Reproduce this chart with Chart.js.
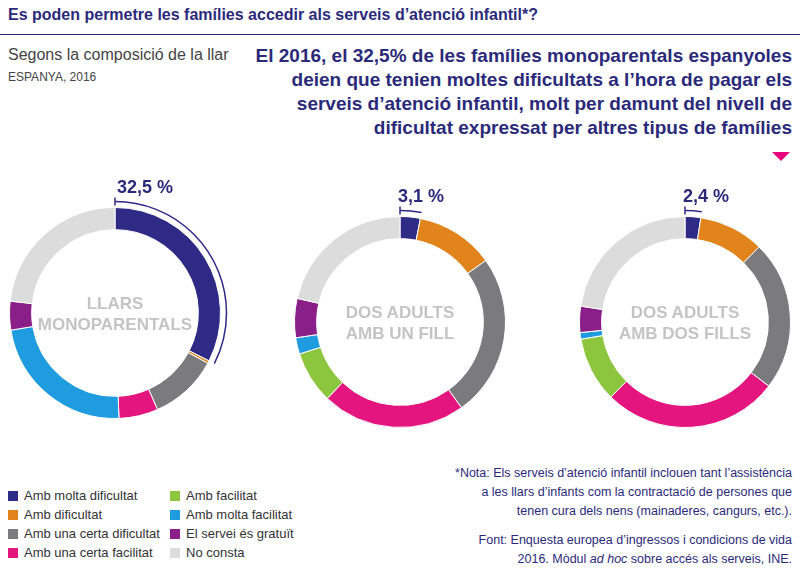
<!DOCTYPE html>
<html><head><meta charset="utf-8">
<script src="https://cdn.jsdelivr.net/npm/chart.js@4"></script>
<style>
body{margin:0;width:800px;height:578px;position:relative;font-family:"Liberation Sans",Arial,sans-serif;background:#fff;overflow:hidden}
.abs{position:absolute}
#title{left:8px;top:6px;font-size:16px;font-weight:bold;color:#2b2a7a}
#rule{left:0;top:34px;width:800px;height:1px;background:#2b2a7a}
#sub{left:8px;top:46px;font-size:16px;color:#444}
#sub2{left:8px;top:70px;font-size:12px;color:#444}
#head{right:8px;top:44px;width:540px;text-align:right;font-size:19px;font-weight:bold;color:#2b2a7a;line-height:24px}
#tri{right:10px;top:152px;width:0;height:0;border-left:9px solid transparent;border-right:9px solid transparent;border-top:9px solid #e6007e}
canvas{position:absolute}
.pct{font-size:18px;font-weight:bold;color:#2b2a7a}
.cl{font-size:17px;font-weight:bold;color:#c4c4c4;text-align:center;width:200px;line-height:21px}
.leg{font-size:13px;color:#333}
.leg span{display:inline-block;width:10px;height:10px;margin-right:6px;vertical-align:-1px}
#note{right:8px;top:464px;width:345px;text-align:right;font-size:12.5px;color:#2b2a7a;line-height:19px}
</style></head><body>
<div class="abs" id="title">Es poden permetre les famílies accedir als serveis d’atenció infantil*?</div>
<div class="abs" id="rule"></div>
<div class="abs" id="sub">Segons la composició de la llar</div>
<div class="abs" id="sub2">ESPANYA, 2016</div>
<div class="abs" id="head">El 2016, el 32,5% de les famílies monoparentals espanyoles deien que tenien moltes dificultats a l’hora de pagar els serveis d’atenció infantil, molt per damunt del nivell de dificultat expressat per altres tipus de famílies</div>
<div class="abs" id="tri"></div>
<div id="charts"></div>
<div id="legend"></div>
<div class="abs" id="note">*Nota: Els serveis d’atenció infantil inclouen tant l’assistència a les llars d’infants com la contractació de persones que tenen cura dels nens (mainaderes, cangurs, etc.).<div style="height:10px"></div>Font: Enquesta europea d’ingressos i condicions de vida 2016. Mòdul <i>ad hoc</i> sobre accés als serveis, INE.</div>
<script>
const categories = ["Amb molta dificultat","Amb dificultat","Amb una certa dificultat","Amb una certa facilitat","Amb facilitat","Amb molta facilitat","El servei és gratuït","No consta"];
const colors = ["#2e2a85","#e2841c","#7b7a7d","#e5157f","#8cc63f","#1f9ce0","#8a1f8a","#dcdcdc"];
const groups = ["LLARS<br>MONOPARENTALS","DOS ADULTS<br>AMB UN FILL","DOS ADULTS<br>AMB DOS FILLS"];
const pctLabels = ["32,5 %","3,1 %","2,4 %"];
const monoparentals = [32.5,0.4,10.5,6,0,23,4.4,23.2];
const unFill = [3.1,12,25,22,8,2.5,6,21.4];
const dosFills = [2.4,10,23,27,10,1,4,22.6];
const seriesAll = [monoparentals, unFill, dosFills];
const centers = [[115,313],[400,322],[685,322]];

const bracket = {
  id:'bracket',
  afterDraw(chart){
    const a = chart.getDatasetMeta(0).data[0];
    const c = chart.ctx, r = a.outerRadius + 6;
    c.save(); c.strokeStyle = '#2e2a85'; c.lineWidth = 1.5;
    c.beginPath(); c.arc(a.x, a.y, r, a.startAngle, a.endAngle); c.stroke();
    c.beginPath();
    c.moveTo(a.x, a.y - r + 4); c.lineTo(a.x, a.y - r - 4); c.stroke();
    c.restore();
  }
};

seriesAll.forEach((vals, i) => {
  const [cx, cy] = centers[i];
  const cv = document.createElement('canvas');
  cv.width = 240; cv.height = 240;
  cv.style.left = (cx - 120) + 'px'; cv.style.top = (cy - 120) + 'px';
  cv.style.width = '240px'; cv.style.height = '240px';
  document.getElementById('charts').appendChild(cv);
  new Chart(cv.getContext('2d'), {
    type: 'doughnut',
    data: { labels: categories, datasets: [{ data: vals, backgroundColor: colors, borderColor: '#fff', borderWidth: 1 }] },
    options: {
      responsive: false, animation: false, cutout: '79%',
      layout: { padding: 14 },
      plugins: { legend: { display: false }, tooltip: { enabled: false } }
    },
    plugins: [bracket]
  });
  const p = document.createElement('div');
  p.className = 'abs pct'; p.textContent = pctLabels[i];
  p.style.left = (cx + (i == 0 ? 2 : -2)) + 'px'; p.style.top = (cy - 136) + 'px';
  document.body.appendChild(p);
  const l = document.createElement('div');
  l.className = 'abs cl'; l.innerHTML = groups[i];
  l.style.left = (cx - 100) + 'px'; l.style.top = (cy - 20) + 'px';
  document.body.appendChild(l);
});

const order = [0,4,1,5,2,6,3,7];
order.forEach((k, j) => {
  const d = document.createElement('div');
  d.className = 'abs leg';
  d.innerHTML = '<span style="background:' + colors[k] + '"></span>' + categories[k];
  d.style.left = (j % 2 ? 170 : 8) + 'px';
  d.style.top = (488 + Math.floor(j / 2) * 19) + 'px';
  document.getElementById('legend').appendChild(d);
});
</script>
</body></html>
